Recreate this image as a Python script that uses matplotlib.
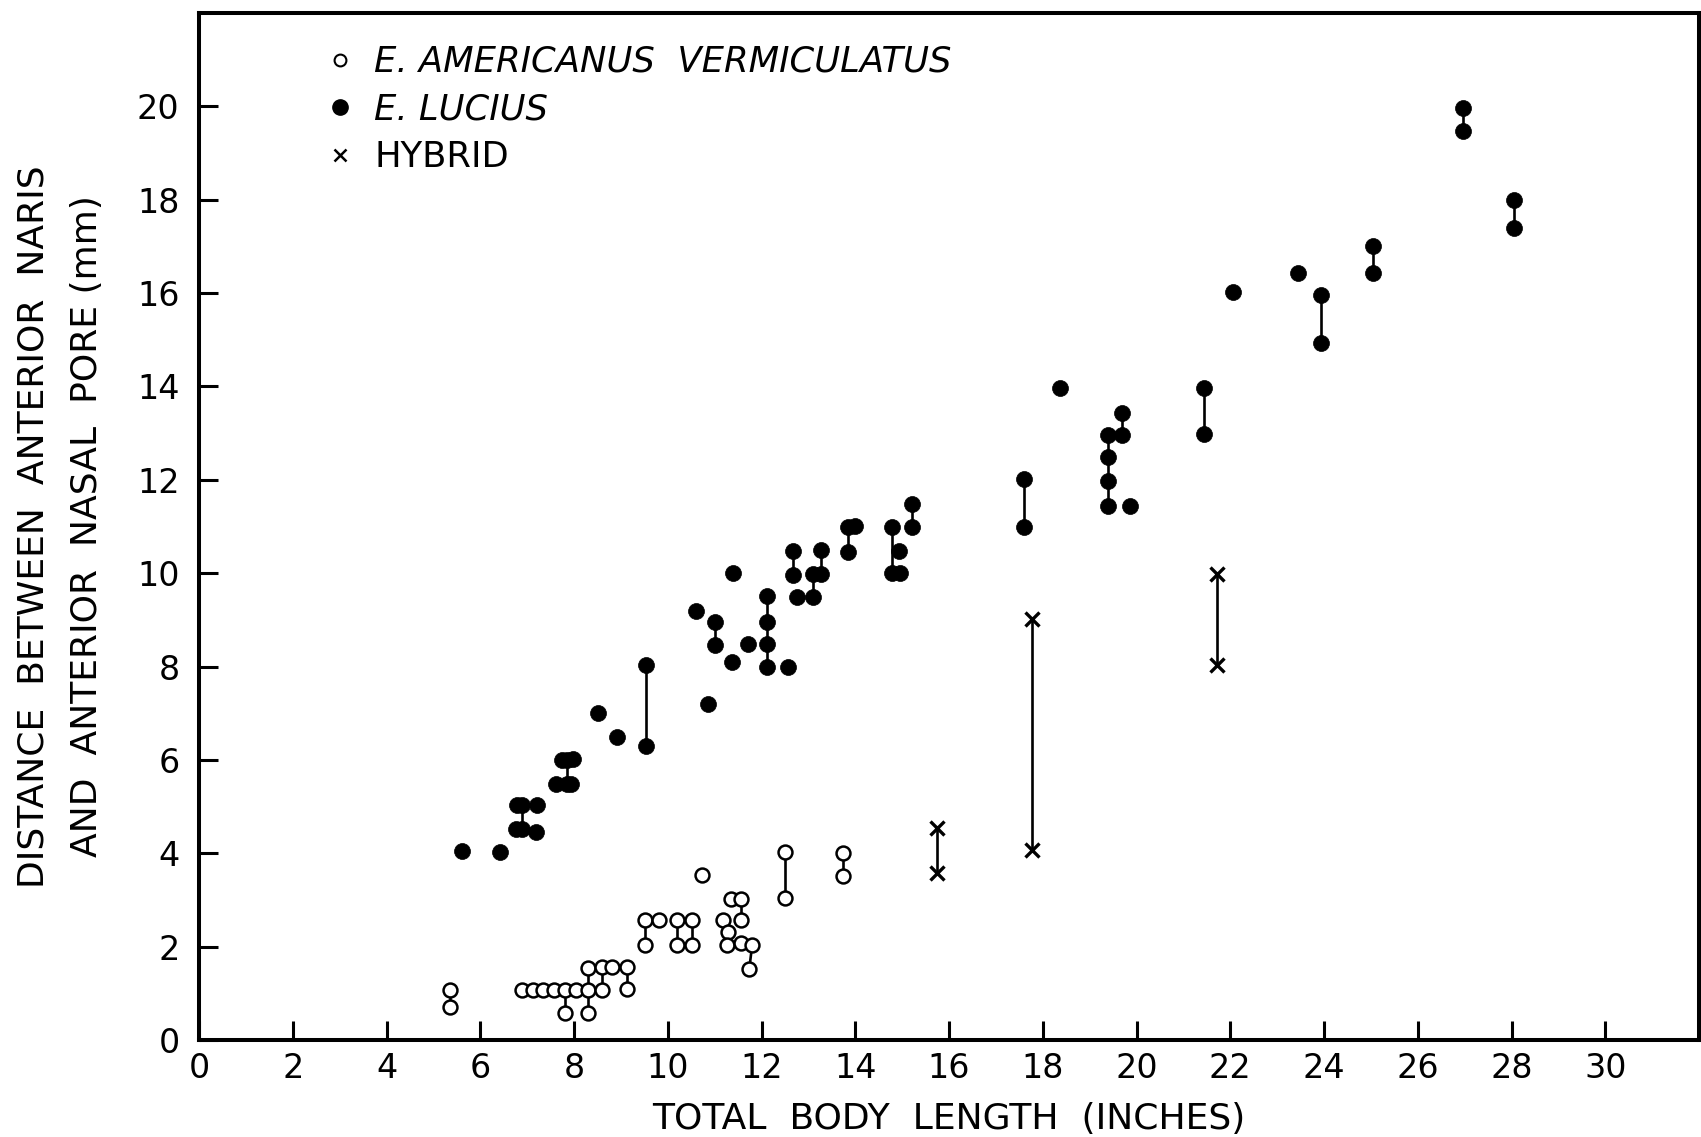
import matplotlib
matplotlib.use("Agg")
import matplotlib.pyplot as plt
from matplotlib.lines import Line2D
import numpy as np

# ---------------- data ----------------
# E. americanus vermiculatus (open circles); points with same group id are joined
amer_x = [5.35, 5.35,
          6.88, 7.12, 7.34, 7.57, 7.80, 7.80, 8.04,
          8.30, 8.30, 8.30,
          8.59, 8.59, 8.82, 9.13, 9.13,
          9.51, 9.51, 9.82, 10.20, 10.20, 10.51, 10.51,
          10.74, 11.18, 11.28, 11.27, 11.34, 11.57, 11.57, 11.57,
          11.80, 11.74, 12.51, 12.51, 13.74, 13.74]
amer_y = [1.07, 0.71,
          1.07, 1.07, 1.07, 1.07, 1.07, 0.57, 1.07,
          1.55, 1.07, 0.58,
          1.57, 1.07, 1.57, 1.57, 1.10,
          2.57, 2.03, 2.57, 2.57, 2.03, 2.57, 2.03,
          3.53, 2.57, 2.32, 2.03, 3.03, 3.03, 2.57, 2.07,
          2.03, 1.53, 4.03, 3.05, 4.01, 3.52]
amer_g = [1, 1,
          0, 0, 0, 0, 2, 2, 0,
          3, 3, 3,
          4, 4, 0, 5, 5,
          6, 6, 0, 7, 7, 8, 8,
          0, 9, 9, 9, 0, 10, 10, 0,
          11, 11, 12, 12, 13, 13]

# E. lucius (filled circles)
luc_x = [5.60, 6.43,
         6.78, 6.90, 6.90, 7.22, 6.76, 7.19,
         7.75, 7.86, 7.86, 7.97, 7.61, 7.93,
         8.52, 8.91, 9.53, 9.53,
         10.61, 10.86, 11.00, 11.00, 11.36, 11.40, 11.71,
         12.11, 12.11, 12.11, 12.11, 12.56,
         12.68, 12.68, 12.75, 13.10, 13.10, 13.27, 13.27,
         13.85, 13.85, 13.99, 14.79, 14.79, 14.93, 14.95, 15.20, 15.20,
         17.59, 17.59, 18.36,
         19.40, 19.40, 19.40, 19.40, 19.70, 19.70, 19.87,
         21.45, 21.45, 22.06, 23.44, 23.94, 23.94,
         25.04, 25.04, 26.97, 26.97, 28.05, 28.05]
luc_y = [4.05, 4.02,
         5.03, 5.03, 4.53, 5.03, 4.53, 4.46,
         5.99, 5.99, 5.49, 6.03, 5.49, 5.49,
         7.01, 6.49, 8.04, 6.29,
         9.20, 7.20, 8.95, 8.47, 8.09, 10.00, 8.49,
         9.52, 8.96, 8.49, 8.00, 8.00,
         10.48, 9.96, 9.48, 9.98, 9.48, 10.50, 9.98,
         10.98, 10.45, 11.02, 11.00, 10.00, 10.48, 10.00, 11.48, 11.00,
         12.02, 11.00, 13.96,
         12.97, 12.48, 11.98, 11.43, 13.43, 12.97, 11.43,
         13.96, 12.98, 16.03, 16.42, 15.96, 14.94,
         17.01, 16.42, 19.97, 19.47, 17.99, 17.40]
luc_g = [0, 0,
         0, 1, 1, 0, 0, 0,
         0, 2, 2, 0, 0, 0,
         0, 0, 3, 3,
         0, 0, 4, 4, 0, 0, 0,
         5, 5, 5, 5, 0,
         6, 6, 0, 7, 7, 8, 8,
         9, 9, 0, 10, 10, 0, 0, 11, 11,
         12, 12, 0,
         13, 13, 13, 13, 14, 14, 0,
         15, 15, 0, 0, 16, 16,
         17, 17, 18, 18, 19, 19]

# Hybrids (x)
hyb_x = [15.75, 15.75, 17.76, 17.76, 21.72, 21.72]
hyb_y = [4.55, 3.57, 9.02, 4.08, 9.98, 8.04]
hyb_g = [1, 1, 2, 2, 3, 3]

x_ticks = list(range(0, 31, 2))
y_ticks = list(range(0, 21, 2))
legend_labels = ["E. AMERICANUS  VERMICULATUS", "E. LUCIUS", "HYBRID"]
x_label = "TOTAL  BODY  LENGTH  (INCHES)"
y_label = "DISTANCE  BETWEEN  ANTERIOR  NARIS\nAND  ANTERIOR  NASAL  PORE (mm)"

# ---------------- figure ----------------
plt.rcParams['font.family'] = ['DejaVu Sans']
fig = plt.figure(figsize=(17.01, 11.37), dpi=100)
ax = fig.add_axes([199 / 1701, 97 / 1137, 1500 / 1701, 1027 / 1137])


def draw_links(xs, ys, gs):
    xs = np.asarray(xs); ys = np.asarray(ys); gs = np.asarray(gs)
    for g in np.unique(gs):
        if g == 0:
            continue
        m = gs == g
        order = np.argsort(ys[m])
        ax.plot(xs[m][order], ys[m][order], color='black', lw=1.9,
                zorder=1, solid_capstyle='butt')


draw_links(amer_x, amer_y, amer_g)
draw_links(luc_x, luc_y, luc_g)
draw_links(hyb_x, hyb_y, hyb_g)

ax.plot(amer_x, amer_y, linestyle='none', marker='o', ms=10, mfc='white',
        mec='black', mew=1.8, zorder=3)
ax.plot(luc_x, luc_y, linestyle='none', marker='o', ms=11.5, mfc='black',
        mec='black', mew=0.5, zorder=3)
ax.plot(hyb_x, hyb_y, linestyle='none', marker='x', ms=10, mec='black',
        mew=2.4, zorder=3)

ax.set_xlim(0, 32)
ax.set_ylim(0, 22)
ax.set_xticks(x_ticks)
ax.set_yticks(y_ticks)
ax.tick_params(direction='in', length=14, width=2.2, labelsize=24,
               top=False, right=False)
ax.tick_params(axis='x', pad=9)
ax.tick_params(axis='y', pad=14)
for sp in ax.spines.values():
    sp.set_linewidth(2.9)

ax.set_xlabel(x_label, fontsize=26, labelpad=12)
ax.set_ylabel(y_label, fontsize=26, labelpad=24, linespacing=1.7)

handles = [
    Line2D([], [], linestyle='none', marker='o', ms=8.5, mfc='white',
           mec='black', mew=1.5),
    Line2D([], [], linestyle='none', marker='o', ms=11, mfc='black',
           mec='black'),
    Line2D([], [], linestyle='none', marker='x', ms=9, mec='black', mew=1.8),
]
leg = ax.legend(handles, legend_labels, loc='upper left',
                bbox_to_anchor=(0.066, 0.993), frameon=False, fontsize=25.5,
                handlelength=1.0, handletextpad=0.45, labelspacing=0.38,
                borderpad=0.2)
for i, t in enumerate(leg.get_texts()):
    if i < 2:
        t.set_fontstyle('italic')

fig.savefig("out.png", dpi=100, facecolor='white')
